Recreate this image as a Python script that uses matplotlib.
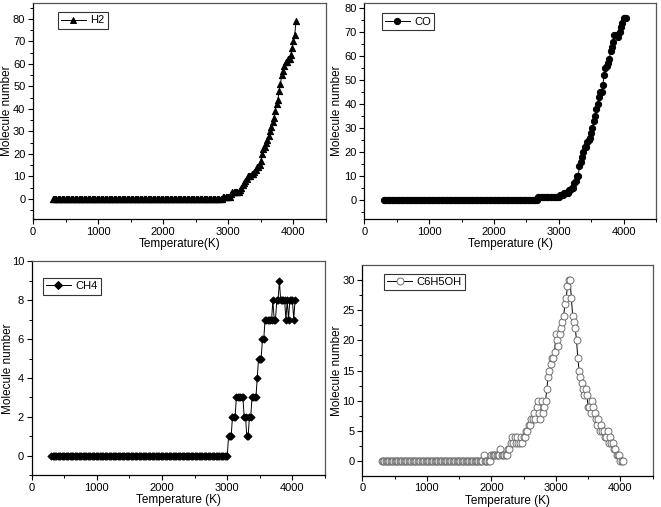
import numpy as np
import matplotlib
matplotlib.use("Agg")
import matplotlib.pyplot as plt
from matplotlib.lines import Line2D
from matplotlib.ticker import MultipleLocator

plt.rcParams['font.family'] = ['Liberation Sans', 'DejaVu Sans']

# sampled temperatures (K)
temperature = np.arange(300, 4041, 20)

# non-zero tails of each series, ending at 4040 K (earlier points are 0)
h2_tail = [1, 1, 1, 1, 1, 1, 2, 3, 3, 3, 3, 3, 3,
           4, 5, 6, 7, 8, 9, 10, 10, 10, 11, 11, 12, 13, 14,
           14, 15, 17, 20, 22, 23, 25, 26, 28, 30, 32, 34, 36, 39,
           42, 44, 48, 51, 55, 57, 59, 61, 61, 62, 62, 64, 67, 70,
           73, 79]

co_tail = [1, 1, 1, 1, 1, 1, 1, 1, 1, 1, 1, 1, 1, 1, 1, 1, 1,
           2, 2, 2, 3, 3, 3, 3, 4, 4, 5, 5, 7, 8, 10, 10, 14, 16, 18,
           20, 22, 22, 24, 25, 26, 28, 30, 33, 35, 38, 40, 43, 45, 45,
           48, 52, 55, 56, 57, 59, 62, 64, 66, 69, 69, 69, 68, 70, 72,
           74, 76, 76, 76]

ch4_tail = [1, 1, 1, 2, 2, 2, 3, 3, 3, 3, 3, 3, 2, 2, 1, 1, 2, 2,
            3, 3, 3, 3, 4, 5, 5, 5, 6, 6, 7, 7, 7, 7, 7, 7, 8, 7, 7,
            8, 8, 9, 8, 8, 8, 8, 7, 8, 7, 8, 8, 8, 7, 8]

phenol_tail = [1, 0, 0, 0, 0, 0, 1, 1, 1, 1, 1, 1, 1, 2, 1, 1, 1, 1, 1,
               2, 2, 3, 4, 3, 4, 3, 4, 3, 3, 4, 3, 4, 4, 5, 5, 6, 6, 7, 7,
               8, 7, 9, 10, 8, 7, 10, 8, 9, 10, 12, 14, 15, 16, 17, 17,
               18, 21, 20, 19, 21, 22, 23, 24, 26, 27, 29, 30, 30, 27, 24,
               23, 22, 20, 17, 15, 14, 13, 12, 11, 12, 11, 9, 9, 8, 10, 9,
               8, 7, 6, 7, 5, 6, 5, 5, 4, 4, 5, 3, 4, 3, 3, 2, 2, 1, 1, 1,
               0, 0, 0]


def full(tail):
    tail = np.array(tail, dtype=float)
    return np.concatenate([np.zeros(len(temperature) - len(tail)), tail])


fig = plt.figure(figsize=(6.61, 5.07), dpi=100)

panels = [
    dict(pos=[0.0499, 0.568, 0.4433, 0.426], y=full(h2_tail), label='H2',
         marker='^', ms=4.5, mfc='black', mec='black', ylim=(-9, 87),
         ymaj=10, ymin=5, xlabel='Temperature(K)', leg=(0.085, 0.958),
         ylab_x=-0.067),
    dict(pos=[0.5511, 0.568, 0.4413, 0.426], y=full(co_tail), label='CO',
         marker='o', ms=4.5, mfc='black', mec='black', ylim=(-8, 82.2),
         ymaj=10, ymin=5, xlabel='Temperature (K)', leg=(0.06, 0.952),
         ylab_x=-0.072),
    dict(pos=[0.048, 0.0625, 0.4437, 0.4221], y=full(ch4_tail), label='CH4',
         marker='D', ms=3.6, mfc='black', mec='black', ylim=(-1, 10),
         ymaj=2, ymin=1, xlabel='Temperature (K)', leg=(0.0375, 0.922),
         ylab_x=-0.06),
    dict(pos=[0.5481, 0.0617, 0.4393, 0.415], y=full(phenol_tail), label='C6H5OH',
         marker='o', ms=5, mfc='white', mec='#707070', ylim=(-2.4, 32.4),
         ymaj=5, ymin=2.5, xlabel='Temperature (K)', leg=(0.075, 0.96),
         ylab_x=-0.067),
]

for p in panels:
    ax = fig.add_axes(p['pos'])
    ax.plot(temperature, p['y'], color='black', lw=0.7, zorder=2)
    ax.scatter(temperature, p['y'], s=p['ms'] ** 2, marker=p['marker'],
               facecolors=p['mfc'], edgecolors=p['mec'], linewidths=0.7,
               zorder=3)
    ax.set_xlim(0, 4500)
    ax.set_ylim(*p['ylim'])
    ax.xaxis.set_major_locator(MultipleLocator(1000))
    ax.xaxis.set_minor_locator(MultipleLocator(500))
    ax.yaxis.set_major_locator(MultipleLocator(p['ymaj']))
    ax.yaxis.set_minor_locator(MultipleLocator(p['ymin']))
    ax.tick_params(which='major', direction='out', length=3.5, width=0.8,
                   labelsize=8, pad=2)
    ax.tick_params(which='minor', direction='out', length=2, width=0.7)
    for side in ['left', 'bottom']:
        ax.spines[side].set_linewidth(0.9)
    for side in ['top', 'right']:
        ax.spines[side].set_linewidth(0.9)
        ax.spines[side].set_color('#555555')
    ax.set_xlabel(p['xlabel'], fontsize=8.5, labelpad=1)
    ax.set_ylabel('Molecule number', fontsize=8.5)
    ax.yaxis.set_label_coords(p['ylab_x'], 0.5)
    handle = Line2D([], [], color='black', lw=0.7, marker=p['marker'],
                    ms=p['ms'], mfc=p['mfc'], mec=p['mec'], mew=0.7)
    leg = ax.legend([handle], [p['label']], loc='upper left',
                    bbox_to_anchor=p['leg'], borderaxespad=0,
                    fontsize=8, fancybox=False, handlelength=2.2,
                    handletextpad=0.4, borderpad=0.3)
    leg.get_frame().set_edgecolor('black')
    leg.get_frame().set_linewidth(0.8)

fig.savefig('out.png', dpi=100)
